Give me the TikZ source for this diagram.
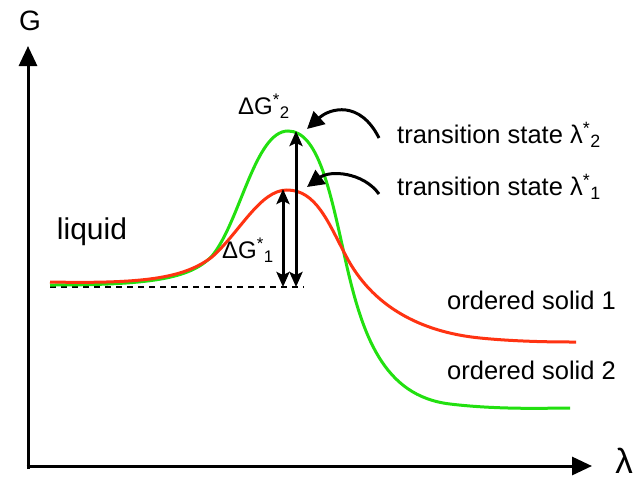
\documentclass[tikz,border=0pt]{standalone}
\usepackage{fontspec}
\setmainfont{Liberation Sans}
\usepackage{tikz}
\usetikzlibrary{arrows.meta, positioning}
\definecolor{solidgreen}{HTML}{22E010}
\definecolor{solidred}{HTML}{FF3312}
\newcommand{\stsub}[1]{\textsuperscript{*}\textsubscript{#1}}

\begin{document}
\begin{tikzpicture}[
  x=1pt, y=-1pt,
  axis/.style={line width=3pt, -{Triangle[length=20pt, width=18pt]}},
  curve/.style={line width=3pt},
  barrier/.style={line width=3pt, {Stealth[length=15pt, width=13pt, inset=3pt]}-{Stealth[length=15pt, width=13pt, inset=3pt]}},
  pointer/.style={line width=3pt, -{Triangle[length=17pt, width=17pt]}},
  lbl/.style={inner sep=0pt, font=\fontsize{25.5}{28}\selectfont},
  every node/.style={inner sep=0pt}
]
  \useasboundingbox (0,0) rectangle (636,482);

  % axes
  \coordinate (origin) at (28,466);
  \coordinate (gtop) at (28,46);
  \coordinate (lend) at (592,466);
  \draw[axis] (origin) ++(0,3) -- (gtop);
  \draw[axis] (origin) ++(-1.5,0) -- (lend);
  \node[font=\fontsize{28}{30}\selectfont] (glabel) at (30,21) {G};
  \node[font=\fontsize{35}{38}\selectfont] (lambda) at (624,461) {λ};

  % reference level
  \coordinate (base) at (50,287);
  \coordinate (baseend) at (304,287);
  \draw[line width=1.5pt, dash pattern=on 6pt off 5pt] (base) -- (baseend);

  % energy curves
  \draw[curve, solidgreen] (50,285) .. controls (150,285) and (190,279) .. (212,256)
    .. controls (240,222) and (255,131) .. (288,131)
    .. controls (318,131) and (330,190) .. (345,258)
    .. controls (362,335) and (383,396) .. (450,404)
    .. controls (500,410) and (550,408) .. (570,408);
  \draw[curve, solidred] (50,282) .. controls (150,284) and (185,277) .. (212,257)
    .. controls (240,232) and (260,190) .. (287,190)
    .. controls (316,190) and (328,222) .. (346,256)
    .. controls (372,306) and (420,332) .. (480,338)
    .. controls (520,342) and (560,342) .. (576,342);

  % barriers
  \coordinate (top1) at (283,189);
  \coordinate (bot1) at (283,287);
  \coordinate (top2) at (296,131);
  \coordinate (bot2) at (296,287);
  \draw[barrier] (bot1) -- (top1);
  \draw[barrier] (bot2) -- (top2);
  \node[lbl, font=\fontsize{24}{26}\selectfont] (dg2) at (264,106) {ΔG\stsub{2}};
  \node[lbl, font=\fontsize{24}{26}\selectfont] (dg1) at (248,250) {ΔG\stsub{1}};

  % labels
  \node[font=\fontsize{30}{32}\selectfont] (liquid) at (92,232) {liquid};
  \node[lbl, anchor=west] (ts2) at (397,135) {transition state λ\stsub{2}};
  \node[lbl, anchor=west] (ts1) at (397,187) {transition state λ\stsub{1}};
  \node[lbl, anchor=west] (os1) at (447,300) {ordered solid 1};
  \node[lbl, anchor=west] (os2) at (447,370) {ordered solid 2};

  \draw[pointer] (ts2.west) ++(-18,3) .. controls (360,100) and (330,108) .. (307,129);
  \draw[pointer] (ts1.west) ++(-18,7) .. controls (363,172) and (330,170) .. (307,187);
\end{tikzpicture}
\end{document}
